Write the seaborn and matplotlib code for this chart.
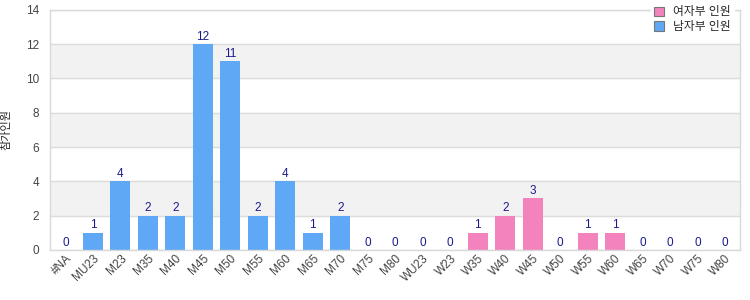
import pandas as pd
import matplotlib
matplotlib.use("Agg")
import matplotlib.pyplot as plt
import seaborn as sns

# age-group categories and counts
categories = ['#NA', 'MU23', 'M23', 'M35', 'M40', 'M45', 'M50', 'M55', 'M60', 'M65', 'M70',
              'M75', 'M80', 'WU23', 'W23', 'W35', 'W40', 'W45', 'W50', 'W55', 'W60', 'W65',
              'W70', 'W75', 'W80']
counts = [0, 1, 4, 2, 2, 12, 11, 2, 4, 1, 2, 0, 0, 0, 0, 1, 2, 3, 0, 1, 1, 0, 0, 0, 0]
female_label = '여자부 인원'
male_label = '남자부 인원'
groups = [female_label if c.startswith('W') else male_label for c in categories]
y_label = '참가인원'
y_ticks = [0, 2, 4, 6, 8, 10, 12, 14]

df = pd.DataFrame({'cat': categories, 'count': counts, 'group': groups})

sns.set_theme(style='white')
plt.rcParams['font.family'] = ['Liberation Sans', 'Noto Sans CJK KR', 'DejaVu Sans']

fig, ax = plt.subplots(figsize=(7.5, 3), dpi=100)
fig.subplots_adjust(left=0.067, right=0.987, top=0.967, bottom=0.167)

# alternating background bands
for lo in (2, 6, 10):
    ax.axhspan(lo, lo + 2, color='#f2f2f2', zorder=0)
for t in y_ticks:
    ax.axhline(t, color='#dcdcdc', lw=1, zorder=0.5)

palette = {female_label: '#f283bd', male_label: '#5fa8f5'}
sns.barplot(data=df, x='cat', y='count', hue='group', hue_order=[female_label, male_label],
            palette=palette, dodge=False, width=0.72, saturation=1, linewidth=0,
            ax=ax, zorder=2)

for cont in ax.containers:
    ax.bar_label(cont, fmt='%d', padding=1, color='#1a1a8c', fontsize=8.5)

ax.set_ylim(0, 14)
ax.set_yticks(y_ticks)
ax.set_xlim(-0.55, len(categories) - 0.45)
ax.tick_params(axis='y', labelsize=8.5, colors='#444444', length=0, pad=8)
ax.tick_params(axis='x', labelsize=8.5, colors='#444444', length=0, pad=2)
plt.setp(ax.get_xticklabels(), rotation=45, ha='right', rotation_mode='anchor')
ax.set_xlabel('')
ax.set_ylabel(y_label, fontsize=8, color='#222222', va='center')
ax.yaxis.set_label_coords(-0.064, 0.5)
for s in ax.spines.values():
    s.set_color('#d9d9d9')
    s.set_linewidth(1)

leg = ax.legend(loc='upper right', bbox_to_anchor=(1.0, 1.055), frameon=True, fontsize=8.5,
                handlelength=0.8, handleheight=0.8, borderpad=0.3, labelspacing=0.25,
                handletextpad=0.8)
leg.get_frame().set_edgecolor('white')
leg.get_frame().set_facecolor('white')
leg.get_frame().set_alpha(1)
leg.set_zorder(5)
for h in leg.legend_handles:
    h.set_edgecolor('#777777')
    h.set_linewidth(0.8)

fig.savefig('out.png', dpi=100)
